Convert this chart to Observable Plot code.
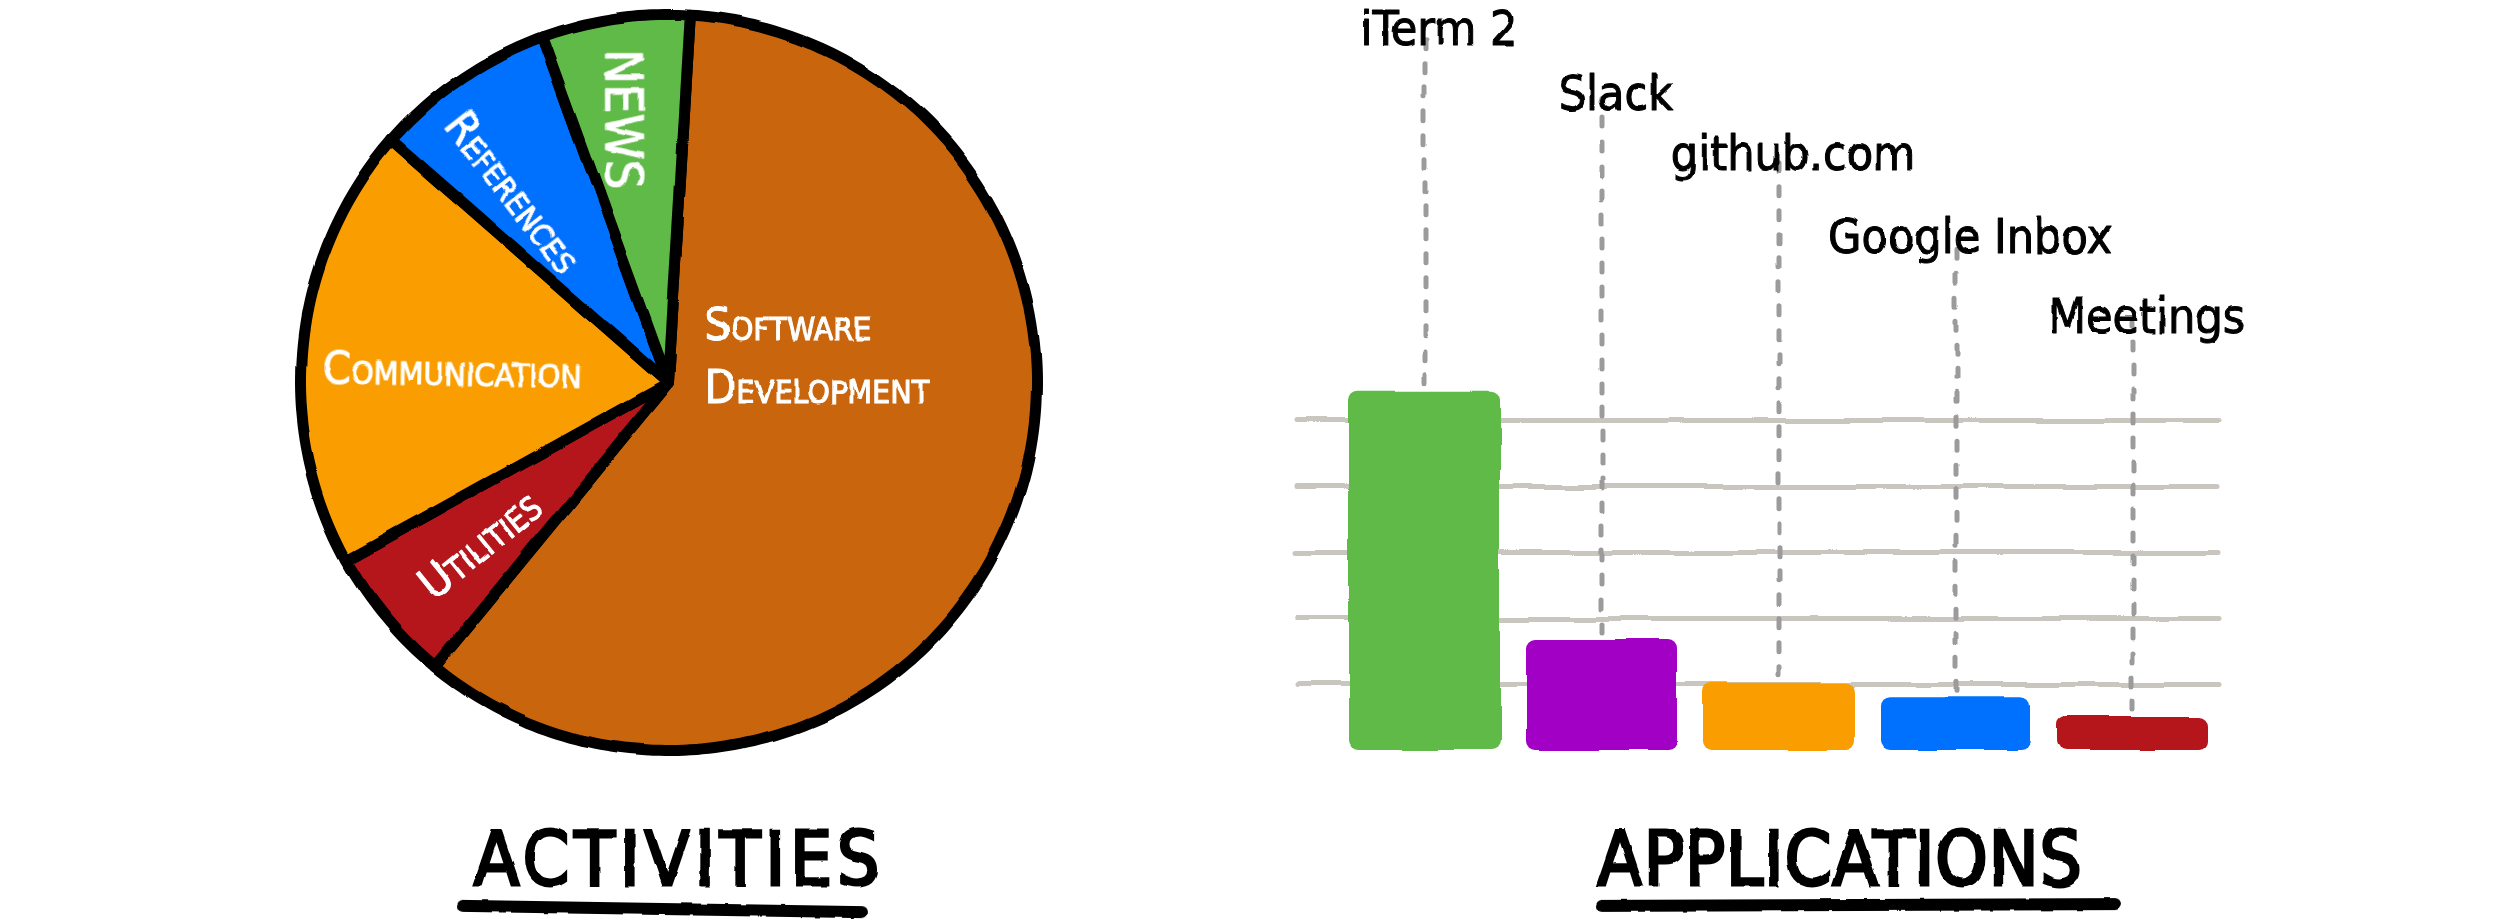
<!DOCTYPE html>
<html>
<head>
<meta charset="utf-8">
<script src="https://cdn.jsdelivr.net/npm/d3@7"></script>
<script src="https://cdn.jsdelivr.net/npm/@observablehq/plot@0.6"></script>
<style>
  html, body { margin: 0; padding: 0; background: #fff; }
  #page { position: relative; width: 2500px; height: 922px; overflow: hidden; background: #fff; }
  #pie { position: absolute; left: 268px; top: 0; }
  #apps { position: absolute; left: 1280px; top: 0; }
  .title {
    position: absolute; top: 822px; width: 700px; text-align: center;
    font-family: "DejaVu Sans Condensed", "DejaVu Sans", sans-serif;
    font-size: 74px; line-height: 74px; color: #000;
    -webkit-text-stroke: 3px #000; filter: url(#wobble-soft);
  }
  .underline { position: absolute; height: 12px; border-radius: 6px; background: #000; filter: url(#wobble-soft); }
  #pie g[aria-label="line"] { filter: url(#wobble); }
  #pie g[aria-label="text"], #apps g[aria-label="text"] { filter: url(#wobble-soft); }
  #apps g[aria-label="bar"], #apps g[aria-label="rule"] { filter: url(#wobble); }
</style>
</head>
<body>
<div id="page">
  <svg width="0" height="0" style="position:absolute">
    <defs>
      <filter id="wobble" x="-5%" y="-5%" width="110%" height="110%">
        <feTurbulence type="fractalNoise" baseFrequency="0.012" numOctaves="2" seed="3" result="noise"/>
        <feDisplacementMap in="SourceGraphic" in2="noise" scale="7" xChannelSelector="R" yChannelSelector="G"/>
      </filter>
      <filter id="wobble-soft" x="-5%" y="-10%" width="110%" height="120%">
        <feTurbulence type="fractalNoise" baseFrequency="0.05" numOctaves="2" seed="7" result="noise"/>
        <feDisplacementMap in="SourceGraphic" in2="noise" scale="3" xChannelSelector="R" yChannelSelector="G"/>
      </filter>
    </defs>
  </svg>
  <div id="pie"></div>
  <div id="apps"></div>
  <div class="title" style="left:329px; letter-spacing:5px;">ACTIVITIES</div>
  <div class="underline" style="left:457px; top:903px; width:410px; transform:rotate(0.9deg);"></div>
  <div class="title" style="left:1490px; letter-spacing:1px;">APPLICATIONS</div>
  <div class="underline" style="left:1596px; top:899px; width:525px; transform:rotate(-0.2deg);"></div>
</div>
<script>
// Time spent per activity (share of tracked time, %)
const activities = ["Software Development", "Utilities", "Communication", "References", "News"];
const activityShare = [60, 6, 19.5, 8, 6.5];
const activityLabels = ["Software\nDevelopment", "Utilities", "Communication", "References", "NEWS"];
const activityColors = ["#c96610", "#b5171a", "#f99d00", "#0070ff", "#61ba47"];

// Time spent per application (hours)
const applications = ["iTerm 2", "Slack", "github.com", "Google Inbox", "Meetings"];
const applicationHours = [5.44, 1.68, 1.02, 0.8, 0.5];
const applicationColors = ["#61ba47", "#a300c6", "#f99d00", "#0070ff", "#b5171a"];
const gridHours = [1, 2, 3, 4, 5];

const FONT = '"DejaVu Sans Condensed", "DejaVu Sans", sans-serif';
const toRad = Math.PI / 180;

// ---------- Activities pie ----------
const activityRows = activities.map((name, i) => ({name, share: activityShare[i], label: activityLabels[i]}));

// Label placement inside each slice: polar position (degrees clockwise from 12 o'clock,
// fraction of the radius), text rotation and size.
const activityLabelLayout = [
  {angle: 120.3, radius: 0.113, rotate: 0, size: 46},
  {angle: 229.1, radius: 0.676, rotate: -39, size: 45},
  {angle: 272.9, radius: 0.588, rotate: 1, size: 45},
  {angle: 320.6, radius: 0.668, rotate: 52, size: 44},
  {angle: 350.1, radius: 0.726, rotate: 90, size: 52}
];

const pie = d3.pie().sort(null).value(d => d.share)
  .startAngle(3.4 * toRad).endAngle((3.4 + 360) * toRad);
const arcs = pie(activityRows);

// Each slice becomes a closed outline: centre → arc → centre
const slicePoints = arcs.flatMap(a => {
  const name = a.data.name;
  const steps = Math.max(2, Math.ceil((a.endAngle - a.startAngle) / toRad));
  const pts = [{name, x: 0, y: 0}];
  for (let k = 0; k <= steps; k++) {
    const t = a.startAngle + (a.endAngle - a.startAngle) * k / steps;
    pts.push({name, x: Math.sin(t), y: Math.cos(t)});
  }
  pts.push({name, x: 0, y: 0});
  return pts;
});

const labelRows = activityRows.map((d, i) => ({...d, ...activityLabelLayout[i]}));
const lx = d => d.radius * Math.sin(d.angle * toRad);
const ly = d => d.radius * Math.cos(d.angle * toRad);

const piePlot = Plot.plot({
  width: 800, height: 780,
  marginTop: 14, marginBottom: 30, marginLeft: 32, marginRight: 32,
  x: {domain: [-1, 1], axis: null},
  y: {domain: [-1, 1], axis: null},
  color: {domain: activities, range: activityColors},
  style: {background: "transparent", overflow: "visible"},
  marks: [
    Plot.line(slicePoints, {
      x: "x", y: "y", z: "name", fill: "name",
      stroke: "#000", strokeWidth: 11, strokeLinejoin: "round", strokeLinecap: "round"
    }),
    Plot.text(labelRows.filter(d => d.label.includes("\n")), {
      x: lx, y: ly, text: "label", rotate: "rotate", fontSize: d => d.size,
      textAnchor: "start", lineAnchor: "bottom", lineHeight: 1.37,
      fontFamily: FONT, fontVariant: "small-caps", fill: "#fff", stroke: "#fff", strokeWidth: 1
    }),
    Plot.text(labelRows.filter(d => !d.label.includes("\n")), {
      x: lx, y: ly, text: "label", rotate: "rotate", fontSize: d => d.size,
      textAnchor: "middle", lineAnchor: "middle",
      fontFamily: FONT, fontVariant: "small-caps", fill: "#fff", stroke: "#fff", strokeWidth: 1
    })
  ]
});
document.getElementById("pie").appendChild(piePlot);

// ---------- Applications bars ----------
// Height (in hours) at which each application's name is written above its bar
const labelLevel = [10.68, 9.70, 8.79, 7.53, 6.32];
const appRows = applications.map((app, i) => ({app, hours: applicationHours[i], level: labelLevel[i]}));

const barPlot = Plot.plot({
  width: 960, height: 780,
  marginTop: 0, marginBottom: 30, marginLeft: 67, marginRight: 30,
  x: {domain: applications, paddingInner: 0.146, paddingOuter: 0, axis: null},
  y: {domain: [0, 11.36], axis: null},
  color: {domain: applications, range: applicationColors},
  style: {background: "transparent", overflow: "visible"},
  marks: [
    Plot.ruleY(gridHours, {
      stroke: "#c9c6c0", strokeWidth: 5, strokeLinecap: "round", insetLeft: -50, insetRight: -8
    }),
    Plot.ruleX(appRows, {
      x: "app", y1: "hours", y2: "level", insetTop: 17, insetBottom: 10,
      stroke: "#9b9b9b", strokeWidth: 5, strokeDasharray: "9,15", strokeLinecap: "round"
    }),
    Plot.barY(appRows, {x: "app", y: "hours", fill: "app", rx: 9}),
    Plot.ruleY([0], {
      stroke: "#000", strokeWidth: 11, strokeLinecap: "round", insetLeft: -25, insetRight: -8
    }),
    Plot.text(appRows, {
      x: "app", y: "level", text: "app", dx: 14, lineAnchor: "bottom",
      fontSize: 48, fontFamily: FONT, fill: "#000", stroke: "#000", strokeWidth: 1
    })
  ]
});
document.getElementById("apps").appendChild(barPlot);
</script>
</body>
</html>
